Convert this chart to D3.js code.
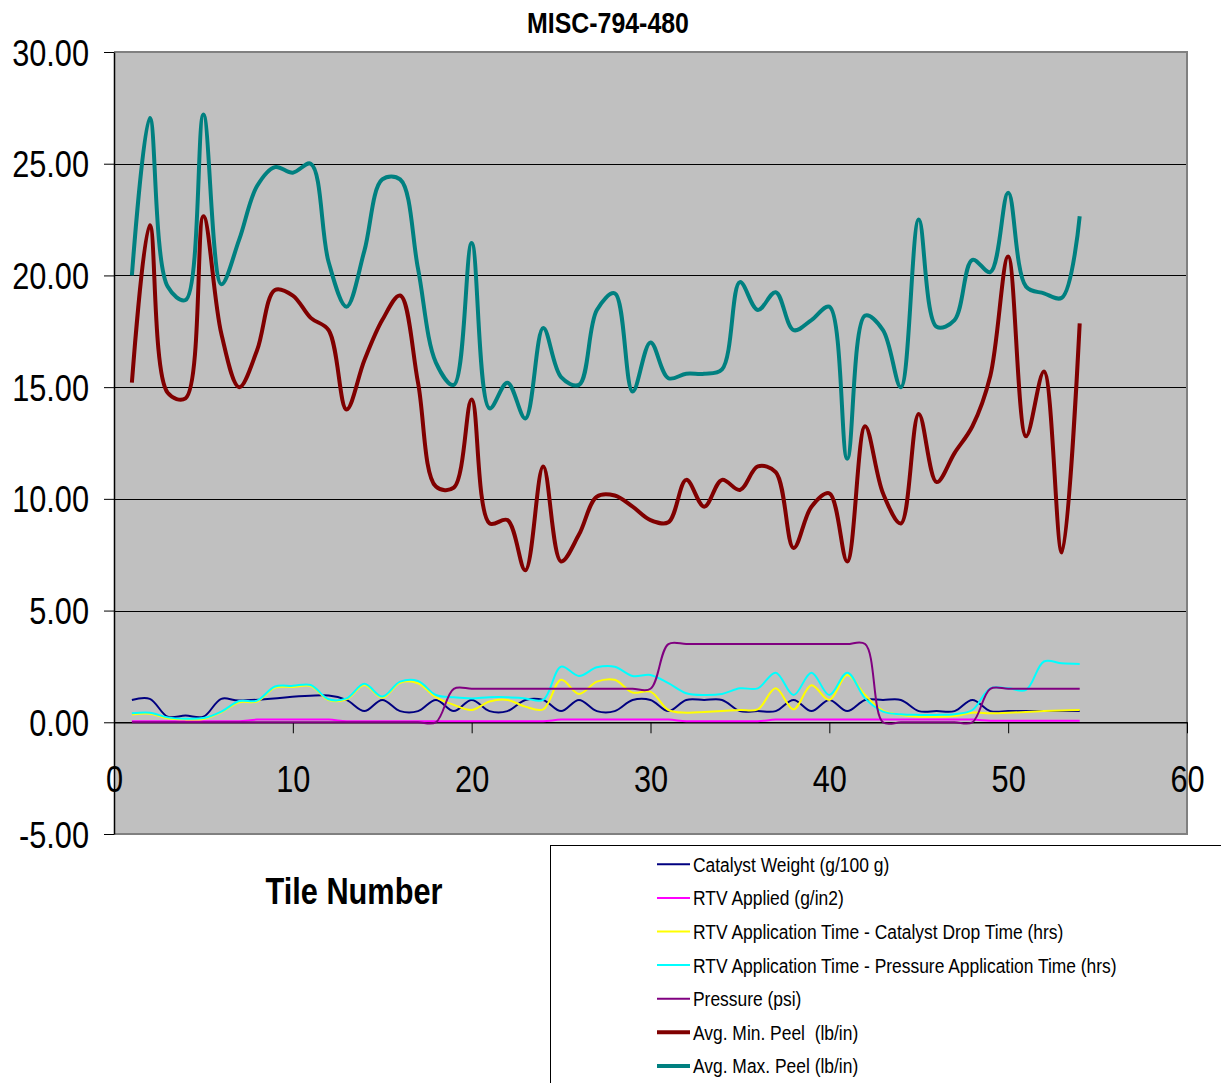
<!DOCTYPE html>
<html>
<head>
<meta charset="utf-8">
<script src="https://cdn.jsdelivr.net/npm/d3@7"></script>
<style>
  html, body { margin: 0; padding: 0; background: #fff; }
  svg { display: block; }
  text { white-space: pre; }
</style>
</head>
<body>
<svg id="chart" width="1221" height="1083"></svg>
<script>
// Tile numbers (x values)
const tiles = [1,2,3,4,5,6,7,8,9,10,11,12,13,14,15,16,17,18,19,20,21,22,23,24,25,26,27,
  28,29,30,31,32,33,34,35,36,37,38,39,40,41,42,43,44,45,46,47,48,49,50,51,52,53,54];

// Catalyst Weight (g/100 g) — tiles 8–11 not recorded
const catalystWeight = [1.0,1.05,0.25,0.3,0.25,1.05,0.97,null,null,null,null,1.2,1.0,0.5,1.0,0.5,0.5,1.0,
  0.5,1.0,0.5,0.5,1.0,1.0,0.5,1.0,0.5,0.5,1.0,1.0,0.5,1.0,1.0,1.0,0.5,0.5,0.5,1.0,0.5,1.0,0.5,1.0,
  1.0,1.0,0.5,0.5,0.5,1.0,0.5,0.5,0.5,0.5,0.5,0.5];

// RTV Applied (g/in2)
const rtvApplied = [0.05,0.05,0.05,0.05,0.05,0.05,0.05,0.12,0.12,0.12,0.12,0.12,0.05,0.05,0.05,0.05,
  0.05,0.05,0.05,0.05,0.05,0.05,0.05,0.05,0.12,0.12,0.12,0.12,0.12,0.12,0.12,0.05,0.05,0.05,0.05,0.05,
  0.12,0.12,0.12,0.12,0.12,0.12,0.12,0.12,0.12,0.12,0.12,0.12,0.07,0.07,0.07,0.07,0.07,0.07];

// RTV Application Time - Catalyst Drop Time (hrs)
const rtvMinusCatalyst = [0.35,0.38,0.18,0.13,0.15,0.45,0.9,0.93,1.55,1.58,1.62,1.0,1.03,1.67,1.1,1.77,
  1.75,1.12,0.78,0.55,0.93,1.0,0.7,0.58,1.9,1.27,1.82,1.9,1.33,1.37,0.55,0.43,0.46,0.5,0.55,0.58,
  1.52,0.58,1.66,1.0,2.12,1.22,0.52,0.33,0.25,0.25,0.28,0.43,0.4,0.43,0.46,0.5,0.53,0.55];

// RTV Application Time - Pressure Application Time (hrs)
const rtvMinusPressure = [0.4,0.43,0.22,0.16,0.19,0.48,0.95,0.97,1.6,1.63,1.67,1.03,1.07,1.72,1.15,1.82,
  1.85,1.22,1.12,1.07,1.12,1.12,1.07,1.0,2.49,2.07,2.46,2.49,2.07,2.12,1.75,1.3,1.22,1.27,1.52,1.52,
  2.22,1.22,2.22,1.22,2.22,1.07,0.48,0.36,0.33,0.33,0.36,0.55,1.52,1.52,1.45,2.72,2.64,2.61];

// Pressure (psi)
const pressure = [0,0,0,0,0,0,0,0,0,0,0,0,0,0,0,0,0,0,1.5,1.5,1.5,1.5,1.5,1.5,1.5,1.5,1.5,1.5,1.5,1.5,
  3.5,3.5,3.5,3.5,3.5,3.5,3.5,3.5,3.5,3.5,3.5,3.5,0,0,0,0,0,0,1.5,1.5,1.5,1.5,1.5,1.5];

// Avg. Min. Peel (lb/in)
const minPeel = [15.2,22.25,14.75,14.5,22.65,17.4,15.0,16.65,19.35,19.1,18.1,17.55,14.0,16.2,18.0,19.1,
  15.2,10.55,10.5,14.45,8.9,9.05,6.8,11.45,7.2,8.4,10.1,10.15,9.65,9.05,8.95,10.85,9.65,10.85,10.4,
  11.45,11.2,7.8,9.65,10.25,7.2,13.25,10.25,8.9,13.8,10.75,12.05,13.25,15.5,20.85,12.8,15.7,7.6,17.85];

// Avg. Max. Peel (lb/in)
const maxPeel = [20.0,27.05,19.5,18.9,27.2,19.6,21.6,24.0,24.85,24.6,25.0,20.6,18.6,21.1,24.3,24.3,
  20.3,16.1,15.1,21.45,14.05,15.2,13.6,17.65,15.45,15.1,18.45,19.2,14.8,17.0,15.4,15.6,15.6,15.8,19.7,
  18.45,19.25,17.55,18.0,18.6,11.8,18.2,17.55,15.0,22.5,17.7,18.0,20.7,20.15,23.7,19.5,19.2,19.0,22.65];

const seriesNames = [
  "Catalyst Weight (g/100 g)",
  "RTV Applied (g/in2)",
  "RTV Application Time - Catalyst Drop Time (hrs)",
  "RTV Application Time - Pressure Application Time (hrs)",
  "Pressure (psi)",
  "Avg. Min. Peel  (lb/in)",
  "Avg. Max. Peel (lb/in)"
];
const seriesValues = [catalystWeight, rtvApplied, rtvMinusCatalyst, rtvMinusPressure, pressure, minPeel, maxPeel];
const seriesColors = ["#000080", "#FF00FF", "#FFFF00", "#00FFFF", "#800080", "#800000", "#008080"];
const seriesWidths = [2, 2, 2, 2, 2, 4, 4];

const xTicks = [0, 10, 20, 30, 40, 50, 60];
const yTicks = [-5, 0, 5, 10, 15, 20, 25, 30];

const chartTitle = "MISC-794-480";
const xTitle = "Tile Number";

// ---- layout ----
const FONT = "'Liberation Sans', Arial, sans-serif";
const SX = 0.83; // horizontal squeeze of the chart lettering
const plot = { left: 114, right: 1187, top: 52, bottom: 834 };

const svg = d3.select("#chart");
const x = d3.scaleLinear().domain([0, 60]).range([plot.left, plot.right]);
const y = d3.scaleLinear().domain([-5, 30]).range([plot.bottom, plot.top]);

function squeezedText(parent, tx, ty, str, size, anchor, weight) {
  const g = parent.append("g").attr("transform", `translate(${tx},${ty}) scale(${SX},1)`);
  g.append("text")
    .attr("text-anchor", anchor)
    .attr("font-family", FONT)
    .attr("font-size", size)
    .attr("font-weight", weight || "normal")
    .attr("fill", "#000")
    .text(str);
  return g;
}

// plot background
svg.append("rect")
  .attr("x", plot.left).attr("y", plot.top)
  .attr("width", plot.right - plot.left).attr("height", plot.bottom - plot.top)
  .attr("fill", "#C0C0C0");

// horizontal gridlines
svg.append("g")
  .selectAll("line")
  .data(yTicks.filter(v => v > 0 && v < 30))
  .join("line")
  .attr("x1", plot.left).attr("x2", plot.right)
  .attr("y1", d => Math.round(y(d)) + 0.5).attr("y2", d => Math.round(y(d)) + 0.5)
  .attr("stroke", "#000").attr("stroke-width", 1);

// plot border (top, right, bottom)
svg.append("path")
  .attr("d", `M${plot.left},${plot.top}H${plot.right}V${plot.bottom}H${plot.left}`)
  .attr("fill", "none").attr("stroke", "#808080").attr("stroke-width", 2);

// y axis
const yAxis = svg.append("g")
  .attr("transform", `translate(${plot.left},0)`)
  .call(d3.axisLeft(y).tickValues(yTicks).tickSize(10).tickSizeOuter(0).tickFormat(d => d.toFixed(2)));
yAxis.select(".domain").attr("stroke", "#000").attr("stroke-width", 1.5);
yAxis.selectAll(".tick line").attr("stroke", "#000");
yAxis.selectAll(".tick text").remove();
yAxis.selectAll(".tick").each(function(d) {
  squeezedText(d3.select(this), -25, 13, d.toFixed(2), 37, "end");
});

// x axis, crossing at y = 0
const xAxis = svg.append("g")
  .attr("transform", `translate(0,${y(0)})`)
  .call(d3.axisBottom(x).tickValues(xTicks).tickSize(11).tickSizeOuter(0));
xAxis.select(".domain").attr("stroke", "#000").attr("stroke-width", 1.5);
xAxis.selectAll(".tick line").attr("stroke", "#000");
xAxis.selectAll(".tick text").remove();
xAxis.selectAll(".tick").each(function(d) {
  squeezedText(d3.select(this), 0, 70, String(d), 37, "middle");
});

// series lines (smoothed, centripetal spline to limit overshoot on steep steps)
const line = d3.line()
  .x(d => x(d.t))
  .y(d => y(d.v))
  .curve(d3.curveCatmullRom.alpha(0.5));

seriesValues.forEach((vals, i) => {
  const pts = tiles.map((t, k) => ({ t, v: vals[k] })).filter(p => p.v !== null);
  svg.append("path")
    .datum(pts)
    .attr("d", line)
    .attr("fill", "none")
    .attr("stroke", seriesColors[i])
    .attr("stroke-width", seriesWidths[i])
    .attr("stroke-linejoin", "round");
});

// title and axis title
squeezedText(svg, 608, 33, chartTitle, 30, "middle", "bold");
squeezedText(svg, 354, 904, xTitle, 37, "middle", "bold");

// legend
const legend = svg.append("g");
legend.append("rect")
  .attr("x", 550.5).attr("y", 845.5)
  .attr("width", 700).attr("height", 300)
  .attr("fill", "#fff").attr("stroke", "#000").attr("stroke-width", 1);
seriesNames.forEach((name, i) => {
  const cy = 864.3 + i * 33.6;
  legend.append("line")
    .attr("x1", 657).attr("x2", 690)
    .attr("y1", cy).attr("y2", cy)
    .attr("stroke", seriesColors[i]).attr("stroke-width", seriesWidths[i]);
  squeezedText(legend, 693, cy + 7.5, name, 21, "start");
});
</script>
</body>
</html>
